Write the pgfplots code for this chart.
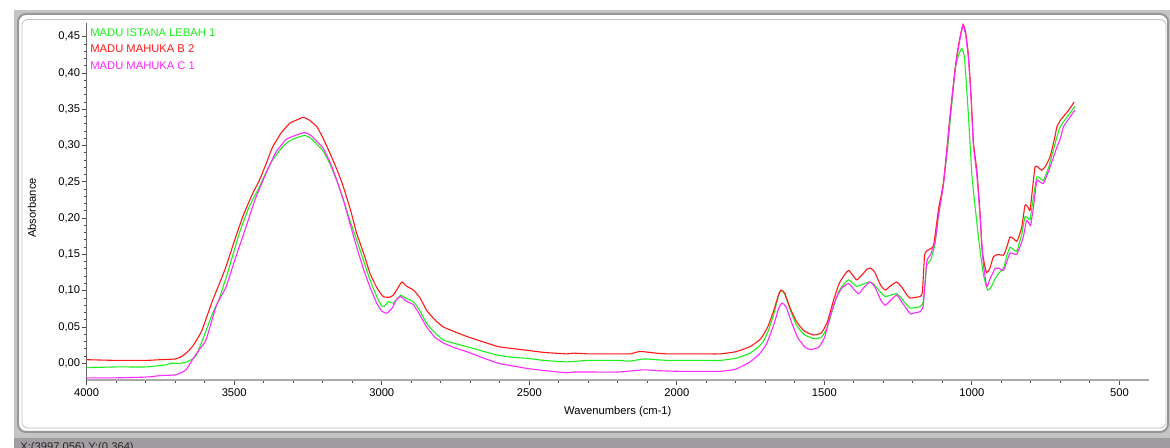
\documentclass[border=0pt]{standalone}
\usepackage{fontspec}
\setmainfont{Liberation Sans}
\usepackage{pgfplots}
\pgfplotsset{compat=1.18}
\definecolor{cgreen}{RGB}{30,240,30}
\definecolor{cred}{RGB}{255,25,25}
\definecolor{cmag}{RGB}{255,40,255}
\definecolor{panelgrey}{RGB}{196,196,196}
\definecolor{statusgrey}{RGB}{160,156,160}
\definecolor{bordergrey}{RGB}{150,150,150}
\definecolor{xaxisgrey}{RGB}{170,170,170}
\newcommand{\sz}{\fontsize{5.6}{6.5}\selectfont}
\begin{document}
\begin{tikzpicture}
\begin{scope}[x=0.5pt,y=-0.5pt,shift={(0pt,224pt)}]
 \path[use as bounding box] (0,0) rectangle (1170,448);
 \fill[white] (0,0) rectangle (1170,448);
 \fill[panelgrey] (14,10) rectangle (1170,448);
 \fill[statusgrey] (14,438) rectangle (1170,448);
 \node[anchor=north west, inner sep=0pt, font=\sz, text=black!85] at (20,442) {X:(3997,056) Y:(0,364)};
 \draw[fill=white, draw=bordergrey, line width=1pt, rounded corners=4pt] (18,14) rectangle (1168,432);
 \draw[draw=black!25, line width=0.4pt, rounded corners=3pt] (22,19.5) rectangle (1166,428);
\end{scope}
\begin{axis}[
  at={(43.35pt,34pt)}, anchor=south west,
  scale only axis, width=531.15pt, height=178.5pt,
  xmin=400, xmax=4000, x dir=reverse,
  ymin=-0.023, ymax=0.469,
  axis x line*=bottom, axis y line*=left,
  x axis line style={-, draw=xaxisgrey, line width=1pt},
  y axis line style={-, draw=black!60, line width=0.5pt},
  xtick={500,1000,...,4000},
  ytick={0,0.05,...,0.46},
  minor tick num=4,
  tick align=outside,
  major tick length=2.5pt, minor tick length=1.5pt,
  tick style={black!70, line width=0.5pt},
  scaled y ticks=false,
  xticklabel style={font=\sz, inner sep=0pt, yshift=-1.6pt, /pgf/number format/.cd, 1000 sep={}, assume math mode=true},
  yticklabel style={font=\sz, inner sep=0pt, xshift=-0.6pt, /pgf/number format/.cd, fixed, fixed zerofill, precision=2, use comma, assume math mode=true},
  xlabel={Wavenumbers (cm-1)}, ylabel={Absorbance},
  xlabel style={font=\sz, at={(axis description cs:0.5,-0.0896)}, anchor=center},
  ylabel style={font=\sz, at={(axis description cs:-0.0515,0.482)}, anchor=center},
  clip=false,
  every axis plot/.append style={line width=0.55pt, smooth, tension=0.3},
]
\addplot[cgreen] table {
4000 -0.006
3900 -0.005
3800 -0.005
3750 -0.003
3730 -0.002
3715 0.000
3700 0.000
3680 0.000
3660 0.002
3630 0.010
3600 0.040
3575 0.067
3550 0.090
3520 0.128
3483 0.179
3450 0.215
3415 0.243
3390 0.265
3370 0.280
3345 0.294
3325 0.303
3300 0.309
3262 0.314
3240 0.310
3220 0.302
3198 0.292
3175 0.274
3153 0.252
3130 0.225
3108 0.197
3085 0.170
3062 0.142
3040 0.115
3017 0.092
3000 0.079
2990 0.079
2978 0.085
2961 0.083
2945 0.090
2935 0.094
2915 0.089
2893 0.085
2870 0.072
2848 0.055
2820 0.042
2791 0.032
2750 0.027
2712 0.023
2660 0.017
2605 0.011
2550 0.008
2509 0.007
2450 0.004
2373 0.002
2300 0.004
2200 0.004
2160 0.003
2113 0.006
2070 0.005
2034 0.004
2000 0.004
1900 0.004
1853 0.004
1800 0.007
1752 0.014
1720 0.024
1707 0.030
1690 0.045
1670 0.070
1655 0.094
1647 0.100
1635 0.096
1615 0.073
1595 0.053
1570 0.040
1537 0.034
1510 0.036
1490 0.050
1469 0.078
1450 0.100
1430 0.111
1418 0.115
1405 0.111
1390 0.106
1370 0.109
1350 0.112
1335 0.110
1310 0.098
1294 0.092
1275 0.094
1255 0.096
1240 0.090
1220 0.080
1208 0.076
1190 0.077
1176 0.078
1165 0.085
1153 0.135
1140 0.142
1125 0.165
1113 0.204
1100 0.240
1085 0.287
1070 0.350
1057 0.406
1045 0.425
1034 0.434
1025 0.420
1012 0.342
1000 0.259
985 0.200
972 0.154
960 0.120
947 0.101
935 0.105
921 0.117
905 0.126
893 0.131
882 0.148
871 0.160
860 0.157
848 0.154
840 0.165
831 0.178
820 0.202
810 0.200
803 0.198
792 0.228
780 0.257
770 0.255
758 0.252
740 0.270
724 0.294
712 0.312
701 0.326
680 0.338
651 0.354
};
\addplot[cred] table {
4000 0.005
3900 0.004
3800 0.004
3750 0.005
3700 0.006
3680 0.009
3663 0.014
3640 0.024
3610 0.045
3573 0.087
3550 0.110
3528 0.133
3500 0.168
3471 0.202
3440 0.232
3415 0.252
3390 0.277
3370 0.298
3340 0.318
3311 0.331
3290 0.335
3266 0.339
3245 0.335
3220 0.326
3200 0.311
3175 0.289
3150 0.265
3130 0.243
3105 0.210
3085 0.179
3060 0.150
3040 0.124
3015 0.103
2995 0.092
2975 0.091
2961 0.094
2945 0.104
2932 0.112
2915 0.106
2893 0.101
2870 0.090
2848 0.073
2820 0.060
2791 0.050
2750 0.043
2712 0.037
2660 0.030
2605 0.023
2550 0.020
2509 0.018
2450 0.015
2373 0.013
2350 0.014
2300 0.013
2200 0.013
2158 0.013
2130 0.016
2113 0.016
2070 0.014
2034 0.013
2000 0.013
1921 0.013
1853 0.013
1800 0.016
1752 0.023
1720 0.032
1707 0.039
1690 0.052
1670 0.075
1655 0.095
1647 0.101
1635 0.097
1615 0.075
1595 0.058
1570 0.045
1537 0.039
1510 0.042
1490 0.057
1469 0.087
1450 0.110
1430 0.123
1418 0.128
1405 0.122
1390 0.115
1370 0.123
1355 0.130
1343 0.131
1330 0.126
1310 0.108
1294 0.101
1275 0.107
1255 0.112
1240 0.106
1220 0.094
1210 0.090
1190 0.091
1176 0.092
1168 0.098
1160 0.150
1145 0.157
1130 0.163
1113 0.213
1096 0.250
1074 0.342
1060 0.395
1051 0.425
1040 0.450
1030 0.467
1021 0.455
1012 0.425
1003 0.370
995 0.305
983 0.264
973 0.210
966 0.158
957 0.135
950 0.125
940 0.130
927 0.147
910 0.150
893 0.149
882 0.160
871 0.174
860 0.172
848 0.168
840 0.176
831 0.188
820 0.218
810 0.215
803 0.211
795 0.240
786 0.271
775 0.270
764 0.266
750 0.272
735 0.285
720 0.310
712 0.326
700 0.335
690 0.340
670 0.350
654 0.360
};
\addplot[cmag] table {
4000 -0.020
3900 -0.020
3800 -0.019
3750 -0.017
3700 -0.016
3680 -0.013
3663 -0.009
3640 0.006
3620 0.018
3596 0.032
3560 0.080
3528 0.105
3500 0.140
3460 0.188
3430 0.225
3392 0.262
3360 0.290
3325 0.308
3300 0.313
3262 0.318
3240 0.314
3220 0.306
3198 0.296
3175 0.277
3153 0.253
3130 0.225
3108 0.193
3085 0.160
3062 0.130
3040 0.105
3017 0.083
3000 0.072
2983 0.069
2965 0.076
2950 0.088
2935 0.092
2915 0.085
2893 0.081
2870 0.066
2848 0.050
2820 0.036
2791 0.028
2750 0.021
2712 0.016
2660 0.008
2605 0.000
2550 -0.004
2509 -0.007
2450 -0.010
2373 -0.013
2350 -0.012
2300 -0.012
2200 -0.012
2113 -0.009
2070 -0.010
2000 -0.011
1853 -0.011
1800 -0.008
1752 0.002
1720 0.013
1696 0.027
1670 0.055
1655 0.076
1644 0.083
1630 0.078
1610 0.055
1590 0.035
1565 0.022
1547 0.019
1520 0.022
1500 0.035
1480 0.066
1460 0.090
1440 0.104
1418 0.110
1400 0.102
1384 0.096
1365 0.105
1346 0.112
1330 0.106
1310 0.088
1294 0.080
1275 0.087
1255 0.094
1240 0.086
1220 0.074
1208 0.068
1190 0.070
1176 0.071
1165 0.080
1153 0.140
1140 0.150
1125 0.168
1113 0.205
1096 0.248
1074 0.340
1060 0.393
1051 0.422
1040 0.448
1030 0.466
1021 0.452
1012 0.420
1003 0.365
995 0.300
983 0.258
972 0.200
962 0.140
950 0.106
940 0.115
921 0.131
905 0.130
893 0.128
882 0.140
871 0.152
860 0.151
848 0.150
838 0.160
826 0.174
815 0.197
808 0.194
801 0.190
790 0.220
780 0.252
770 0.250
758 0.248
740 0.265
712 0.298
700 0.310
690 0.326
670 0.338
651 0.349
};
\node[anchor=north west, inner sep=0pt, font=\sz, text=cgreen] at (rel axis cs:0.0031,0.986) {MADU ISTANA LEBAH 1};
\node[anchor=north west, inner sep=0pt, font=\sz, text=cred] at (rel axis cs:0.0031,0.9394) {MADU MAHUKA B 2};
\node[anchor=north west, inner sep=0pt, font=\sz, text=cmag] at (rel axis cs:0.0031,0.8928) {MADU MAHUKA C 1};
\end{axis}
\end{tikzpicture}
\end{document}
